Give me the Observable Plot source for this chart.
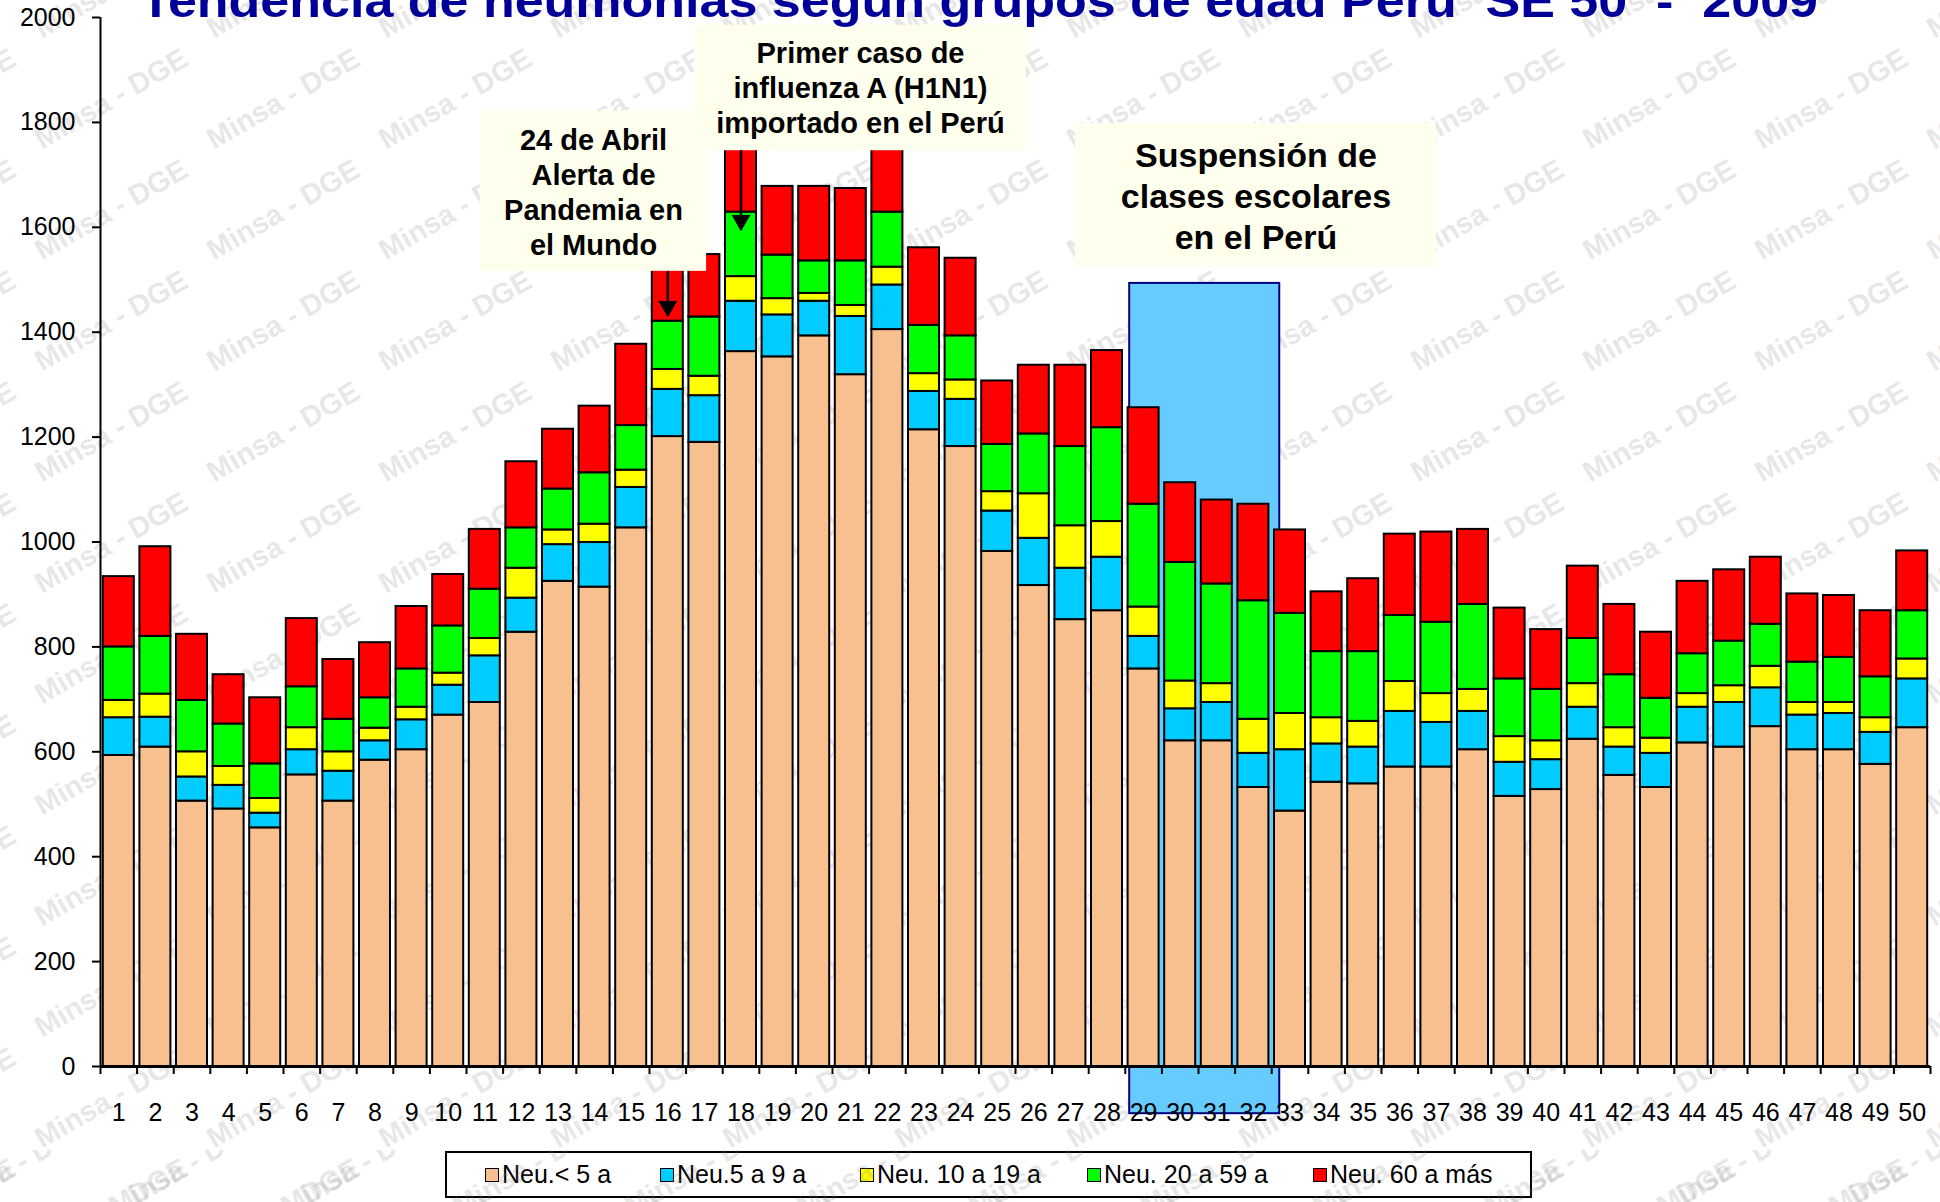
<!DOCTYPE html>
<html>
<head>
<meta charset="utf-8">
<script src="https://cdn.jsdelivr.net/npm/d3@7"></script>
<script src="https://cdn.jsdelivr.net/npm/@observablehq/plot@0.6"></script>
<style>
html, body { margin: 0; padding: 0; background: #fff; }
#wrap { position: relative; width: 1940px; height: 1202px; overflow: hidden; font-family: "Liberation Sans", Arial, sans-serif; }
#chart { position: absolute; left: 0; top: 0; }
#title { position: absolute; left: 140px; top: -22px; font-size: 46px; line-height: 46px; font-weight: bold; color: #000099; white-space: pre; transform-origin: 0 0; z-index: 3; }
#legend { position: absolute; left: 445px; top: 1151px; width: 1083px; height: 43px; border: 2px solid #000; background: #fff; }
.item { position: absolute; top: 0; height: 43px; display: flex; align-items: center; font-size: 25px; color: #000; white-space: nowrap; }
.sw { width: 12px; height: 12px; border: 1.5px solid #000; margin-right: 3px; }
#wm2 { position: absolute; left: 0; top: 1150px; pointer-events: none; z-index: 2; }
</style>
</head>
<body>
<div id="wrap">
  <div id="chart"></div>
  <svg id="wm2" width="1940" height="52"></svg>
  <div id="legend"></div>
  <div id="title">Tendencia de neumonías según grupos de edad Perú  SE 50  -  2009</div>
</div>
<script>
// ---- data (semanas epidemiológicas 1..50) ----
const weeks = d3.range(1, 51);
const groups = ["Neu.< 5 a", "Neu.5 a 9 a", "Neu. 10 a 19 a", "Neu. 20 a 59 a", "Neu. 60 a más"];
const colors = ["#F9C08F", "#00CCFF", "#FFFF00", "#00FF00", "#FF0000"];
const yTicks = [0, 200, 400, 600, 800, 1000, 1200, 1400, 1600, 1800, 2000];

const lt5    = [593,609,506,491,455,556,506,584,604,670,694,828,925,914,1027,1201,1190,1363,1353,1393,1319,1405,1214,1182,982,917,852,869,758,621,621,532,487,542,539,571,571,604,515,528,624,555,532,617,609,648,604,604,576,646];
const a5_9   = [72,57,46,45,28,48,57,37,57,57,89,65,70,85,77,90,89,96,80,66,111,85,73,90,77,90,98,102,62,61,73,65,117,73,70,106,85,73,65,57,61,54,65,68,85,74,66,69,61,93];
const a10_19 = [33,44,48,36,28,42,37,24,24,23,33,57,28,35,33,38,37,47,31,15,21,34,34,37,37,85,81,68,56,53,36,65,69,50,49,57,55,42,49,36,45,37,29,26,32,41,24,21,28,38];
const a20_59 = [102,110,98,81,66,78,62,58,73,90,94,77,78,98,85,92,113,123,83,62,85,105,92,84,90,114,151,179,196,226,190,226,191,126,133,126,136,162,110,98,86,101,76,76,85,80,77,86,78,92];
const a60    = [134,171,126,94,126,130,114,105,119,98,114,126,114,127,155,179,119,161,131,142,138,141,148,148,121,131,155,147,184,152,160,184,159,114,139,155,172,143,135,114,138,134,126,138,136,128,130,118,126,114];
const series = [lt5, a5_9, a10_19, a20_59, a60];

// annotations (in week / case units)
const closure = [{start: 28.62, end: 32.72, bottom: -90, top: 1493}];
const notes = [
  {x1: 10.88, x2: 17.06, y1: 1516, y2: 1821, textTop: 1794, size: 29, text: "24 de Abril\nAlerta de\nPandemia en\nel Mundo"},
  {x1: 16.73, x2: 25.80, y1: 1746, y2: 1985, textTop: 1960, size: 29, text: "Primer caso de\ninfluenza A (H1N1)\nimportado en el Perú"},
  {x1: 27.14, x2: 37.00, y1: 1525, y2: 1798, textTop: 1770, size: 34, text: "Suspensión de\nclases escolares\nen el Perú"}
];
const pointers = [{week: 16, from: 1516, to: 1430}, {week: 18, from: 1746, to: 1594}];

const data = weeks.flatMap((w, i) => series.map((s, j) => ({week: w, group: groups[j], value: s[i]})));
const bounds = d3.range(0.5, 51, 1);
const FONT = '"Liberation Sans", Arial, sans-serif';

const chart = Plot.plot({
  width: 1940, height: 1150,
  marginLeft: 100, marginRight: 10, marginTop: 17, marginBottom: 84,
  x: {type: "linear", domain: [0.5, 50.5], axis: null},
  y: {domain: [0, 2000], axis: null},
  color: {domain: groups, range: colors},
  style: {fontFamily: FONT, color: "#000", background: "transparent", overflow: "visible"},
  marks: [
    Plot.rect(closure, {x1: "start", x2: "end", y1: "bottom", y2: "top", fill: "#66CCFF", stroke: "#000080", strokeWidth: 2}),
    Plot.rectY(data, Plot.stackY({
      x1: d => d.week - 0.5, x2: d => d.week + 0.5, y: "value", fill: "group", order: groups,
      insetLeft: 2.8, insetRight: 2.8, stroke: "#000", strokeWidth: 2
    })),
    Plot.ruleX([0.5], {y1: 0, y2: 2000, stroke: "#000", strokeWidth: 2}),
    Plot.ruleY([0], {stroke: "#000", strokeWidth: 3}),
    Plot.axisY(yTicks, {anchor: "left", tickSize: 8, tickPadding: 17, fontSize: 25, strokeWidth: 2, tickFormat: d => String(d), label: null}),
    Plot.axisX(weeks, {anchor: "bottom", tickSize: 0, tickPadding: 37, fontSize: 25, tickFormat: d => String(d), label: null}),
    Plot.axisX(bounds, {anchor: "bottom", tickSize: 8, tickFormat: () => "", strokeWidth: 2, label: null}),
    Plot.rect(notes, {x1: "x1", x2: "x2", y1: "y1", y2: "y2", fill: "#FFFFEE"}),
    Plot.text(notes, {x: d => (d.x1 + d.x2) / 2, y: "textTop", text: "text", fontSize: d => d.size, fontWeight: "bold", lineAnchor: "top", lineHeight: 1.2, fill: "#000"}),
    Plot.ruleX(pointers, {x: "week", y1: "from", y2: "to", stroke: "#000", strokeWidth: 2.5}),
    Plot.dot(pointers, {x: "week", y: "to", symbol: "triangle", rotate: 180, r: 7, fill: "#000", stroke: null, dy: -10})
  ]
});
document.getElementById("chart").appendChild(chart);

// watermark "Minsa - DGE"
const NS = "http://www.w3.org/2000/svg";
function watermark(target, yShift, before) {
  const g = document.createElementNS(NS, "g");
  g.setAttribute("pointer-events", "none");
  for (let k = -1; k <= 11; k++) {
    for (let i = -1; i <= 11; i++) {
      const x = 116 + i * 172, y = 107 + k * 111 - yShift;
      const t = document.createElementNS(NS, "text");
      t.setAttribute("x", x); t.setAttribute("y", y);
      t.setAttribute("transform", `rotate(-30 ${x} ${y})`);
      t.setAttribute("font-family", FONT);
      t.setAttribute("font-size", "29");
      t.setAttribute("font-weight", "bold");
      t.setAttribute("fill", "#7f7f7f");
      t.setAttribute("fill-opacity", "0.2");
      t.textContent = "Minsa - DGE";
      g.appendChild(t);
    }
  }
  if (before) target.insertBefore(g, before); else target.appendChild(g);
}
// place the watermark behind the closure box and the bars (first rect group)
const firstRect = chart.querySelector('g[aria-label="rect"]');
watermark(chart, 0, firstRect);
watermark(document.getElementById("wm2"), 1150, null);

// legend
const legend = document.getElementById("legend");
const lefts = [38, 213, 413, 640, 866];
groups.forEach((g, i) => {
  const it = document.createElement("div");
  it.className = "item";
  it.style.left = lefts[i] + "px";
  const sw = document.createElement("div");
  sw.className = "sw";
  sw.style.background = colors[i];
  const tx = document.createElement("span");
  tx.textContent = g;
  it.appendChild(sw); it.appendChild(tx);
  legend.appendChild(it);
});

// title width fit
const title = document.getElementById("title");
const w = title.getBoundingClientRect().width;
title.style.transform = `scaleX(${1678 / w})`;
</script>
</body>
</html>
